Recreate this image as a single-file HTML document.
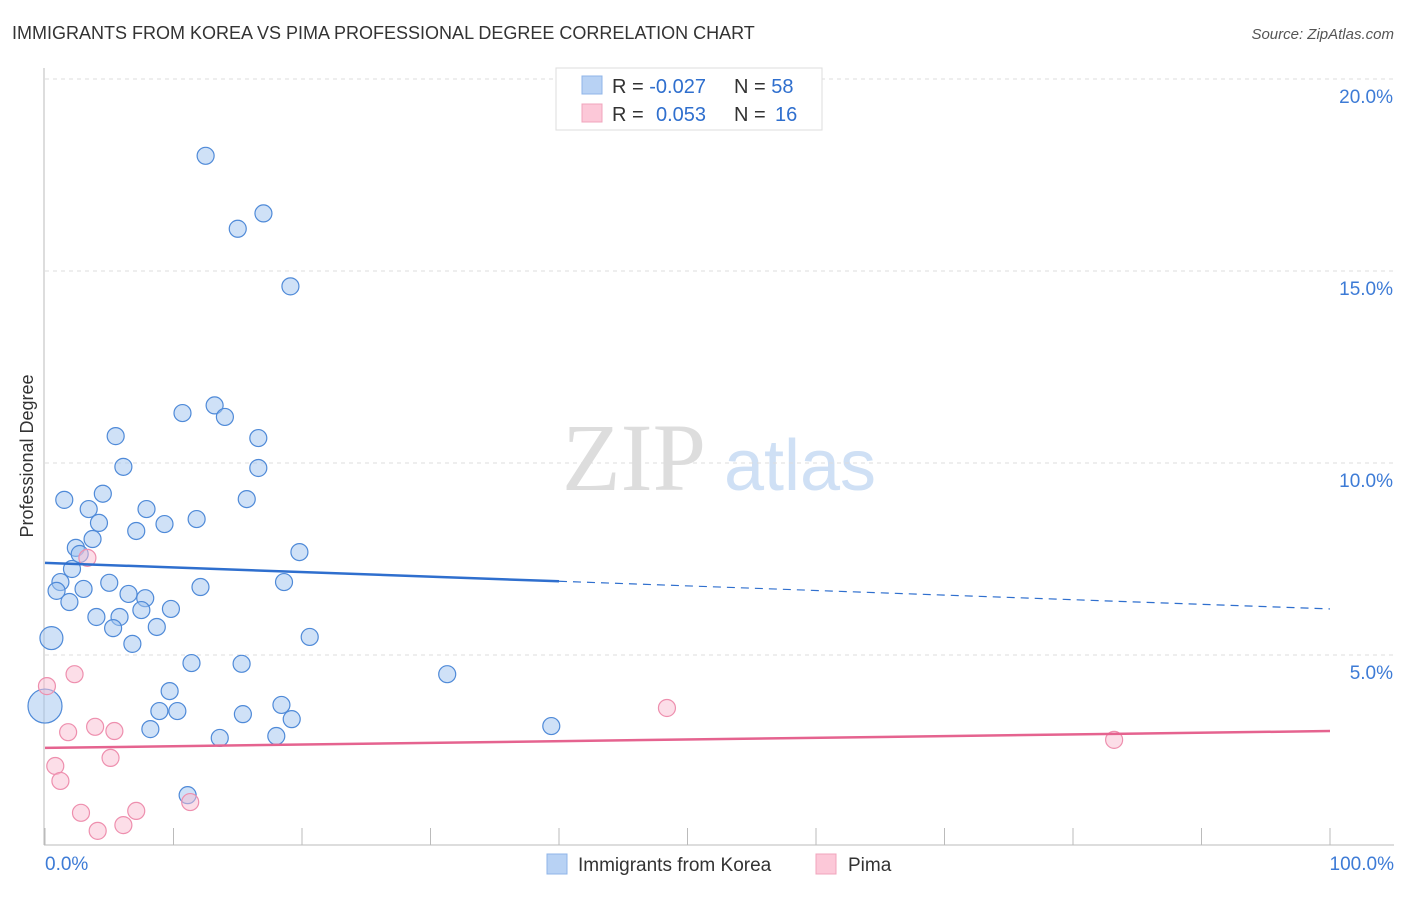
<!DOCTYPE html>
<html><head><meta charset="utf-8"><style>
body{margin:0;background:#fff;font-family:"Liberation Sans",sans-serif}
</style></head><body>
<svg width="1406" height="892" id="c" style="font-family:'Liberation Sans',sans-serif">
<text x="12" y="39" font-size="18" fill="#333">IMMIGRANTS FROM KOREA VS PIMA PROFESSIONAL DEGREE CORRELATION CHART</text>
<text x="1394" y="39" font-size="15" fill="#555" text-anchor="end" font-style="italic">Source: ZipAtlas.com</text>
<text x="634" y="490" font-size="96" fill="#ddd" font-family="Liberation Serif" text-anchor="middle">ZIP</text>
<text x="800" y="490" font-size="72" fill="#cfe0f5" text-anchor="middle">atlas</text>
<text transform="translate(33,456) rotate(-90)" font-size="18" fill="#333" text-anchor="middle">Professional Degree</text>
<g id="grid"></g><g id="marks"></g>
<g>
<rect x="556" y="68" width="266" height="62" fill="#fff" stroke="#ddd"/>
<rect x="582" y="76" width="20" height="18" fill="#b8d2f4" stroke="#8fb4e8"/>
<rect x="582" y="104" width="20" height="18" fill="#fcc8d8" stroke="#f0a4bc"/>
<text x="612" y="93" font-size="20" fill="#333">R = <tspan fill="#2f6fce">-0.027</tspan><tspan x="734">N = </tspan><tspan fill="#2f6fce">58</tspan></text>
<text x="612" y="121" font-size="20" fill="#333">R = <tspan x="656" fill="#2f6fce">0.053</tspan><tspan x="734">N = </tspan><tspan x="775" fill="#2f6fce">16</tspan></text>
</g>
<g>
<rect x="547" y="854" width="20" height="20" fill="#b8d2f4" stroke="#8fb4e8"/>
<text x="578" y="871" font-size="19" fill="#333">Immigrants from Korea</text>
<rect x="816" y="854" width="20" height="20" fill="#fcc8d8" stroke="#f0a4bc"/>
<text x="848" y="871" font-size="19" fill="#333">Pima</text>
</g>
</svg>
<script>
const koreaX=[12.5,17.0,15.0,19.1,13.2,10.7,14.0,5.5,16.6,6.1,16.6,4.5,1.5,15.7,3.4,7.9,4.2,9.3,11.8,7.1,3.7,2.4,2.7,19.8,2.1,1.2,5.0,3.0,0.9,18.6,12.1,6.5,7.8,1.9,9.8,7.5,4.0,5.8,5.3,8.7,0.5,20.6,6.8,11.4,15.3,31.3,9.7,18.4,8.9,10.3,15.4,19.2,8.2,39.4,13.6,18.0,11.1,0.0];
const koreaY=[18.0,16.5,16.1,14.6,11.5,11.3,11.2,10.7,10.65,9.9,9.87,9.2,9.04,9.06,8.8,8.8,8.44,8.41,8.54,8.23,8.02,7.79,7.63,7.68,7.24,6.9,6.88,6.72,6.67,6.9,6.77,6.59,6.48,6.38,6.2,6.17,5.99,5.99,5.7,5.73,5.44,5.47,5.29,4.79,4.77,4.5,4.06,3.7,3.54,3.54,3.46,3.33,3.07,3.15,2.84,2.89,1.35,3.67];
const koreaSize=[1,1,1,1,1,1,1,1,1,1,1,1,1,1,1,1,1,1,1,1,1,1,1,1,1,1,1,1,1,1,1,1,1,1,1,1,1,1,1,1,1.35,1,1,1,1,1,1,1,1,1,1,1,1,1,1,1,1,2];
const pimaX=[2.3,0.15,3.3,1.8,3.9,5.4,5.1,0.8,1.2,2.8,4.1,6.1,7.1,11.3,48.4,83.2];
const pimaY=[4.5,4.19,7.53,2.99,3.13,3.02,2.32,2.11,1.72,0.89,0.42,0.57,0.94,1.17,3.62,2.79];
const koreaTrend=[7.4,6.2];
const pimaTrend=[2.58,3.02];
const yTicks=[5,10,15,20];
const xTickLabels=["0.0%","100.0%"];
const ns="http://www.w3.org/2000/svg";
const X=v=>45+v*12.85, Y=v=>847-v*38.4;
function mk(p,t,a){const e=document.createElementNS(ns,t);for(const k in a)e.setAttribute(k,a[k]);p.appendChild(e);return e;}
const g=document.getElementById('grid'),m=document.getElementById('marks');
yTicks.forEach(t=>{const l=mk(g,'line',{x1:45,x2:1394,y1:Y(t),y2:Y(t),stroke:'#ddd','stroke-dasharray':'4,4'});


const tx=mk(g,'text',{x:1393,y:Y(t)+24,'font-size':19,fill:'#3d7bd6','text-anchor':'end'});tx.textContent=t.toFixed(1)+'%';

});
mk(g,'line',{x1:44,x2:44,y1:68,y2:845,stroke:'#bbb'});
mk(g,'line',{x1:44,x2:1394,y1:845,y2:845,stroke:'#bbb'});
for(let i=0;i<=10;i++){const t=mk(g,'line',{x1:X(i*10),x2:X(i*10),y1:828,y2:845,stroke:'#bbb'});

}
const l0=mk(g,'text',{x:45,y:870,'font-size':19,fill:'#3d7bd6'});l0.textContent=xTickLabels[0];


const l1=mk(g,'text',{x:1394,y:870,'font-size':19,fill:'#3d7bd6','text-anchor':'end'});l1.textContent=xTickLabels[1];


koreaX.forEach((v,i)=>{const c=mk(m,'circle',{cx:X(v),cy:Y(koreaY[i]),r:8.5*koreaSize[i],fill:'rgba(160,196,240,0.5)',stroke:'#4f8ad8','stroke-width':1.2});

});
pimaX.forEach((v,i)=>{const c=mk(m,'circle',{cx:X(v),cy:Y(pimaY[i]),r:8.5,fill:'rgba(250,190,210,0.5)',stroke:'#ee8fae','stroke-width':1.2});

});
const kAt=x=>koreaTrend[0]+(koreaTrend[1]-koreaTrend[0])*x/100;
const t1=mk(m,'line',{x1:X(0),y1:Y(kAt(0)),x2:X(40),y2:Y(kAt(40)),stroke:'#2f6fce','stroke-width':2.5});


const t2=mk(m,'line',{x1:X(40),y1:Y(kAt(40)),x2:X(100),y2:Y(kAt(100)),stroke:'#2f6fce','stroke-width':1.2,'stroke-dasharray':'8,6'});


const t3=mk(m,'line',{x1:X(0),y1:Y(pimaTrend[0]),x2:X(100),y2:Y(pimaTrend[1]),stroke:'#e5638f','stroke-width':2.5});


</script>
</body></html>
